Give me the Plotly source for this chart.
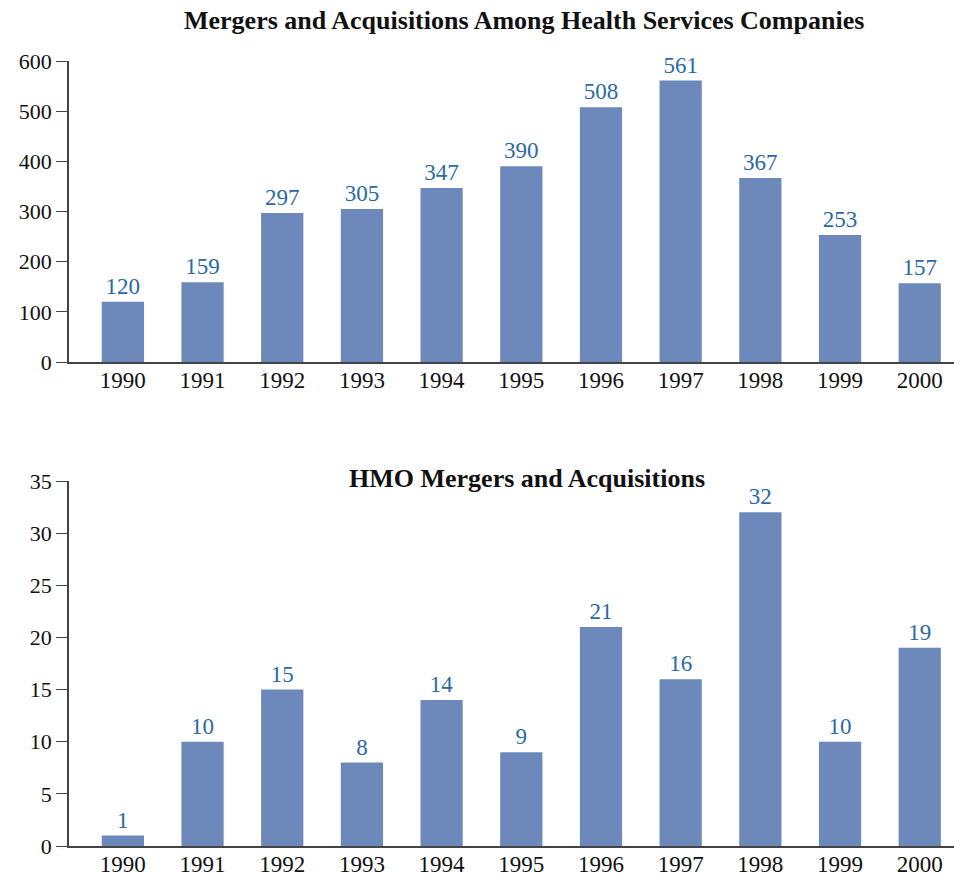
import plotly.graph_objects as go

years = ["1990", "1991", "1992", "1993", "1994", "1995", "1996", "1997", "1998", "1999", "2000"]
health_services_deals = [120, 159, 297, 305, 347, 390, 508, 561, 367, 253, 157]
hmo_deals = [1, 10, 15, 8, 14, 9, 21, 16, 32, 10, 19]

title_top = "Mergers and Acquisitions Among Health Services Companies"
title_bottom = "HMO Mergers and Acquisitions"

BAR_COLOR = "#6d89bb"
LABEL_COLOR = "#2a69a6"
AXIS_COLOR = "#444444"
FONT = "Liberation Serif"

W, H = 954, 876

fig = go.Figure()

for vals, xa, ya in [(health_services_deals, "x", "y"), (hmo_deals, "x2", "y2")]:
    fig.add_trace(go.Bar(
        x=years, y=vals, xaxis=xa, yaxis=ya,
        marker=dict(color=BAR_COLOR, line=dict(width=0)),
        width=0.53,
        text=[str(v) for v in vals], textposition="outside",
        textfont=dict(family=FONT, size=23, color=LABEL_COLOR),
        cliponaxis=False, showlegend=False, hoverinfo="x+y",
    ))

xcommon = dict(
    type="category", range=[-0.676, 10.43], domain=[69 / W, 1],
    showline=True, linecolor=AXIS_COLOR, linewidth=1.5,
    ticks="", showgrid=False, zeroline=False, automargin=False,
    ticklabelstandoff=-3,
    tickfont=dict(family=FONT, size=23, color="#111111"),
)
ycommon = dict(
    showline=True, linecolor=AXIS_COLOR, linewidth=1.5,
    ticks="outside", ticklen=11, tickcolor=AXIS_COLOR, tickwidth=1.2,
    showgrid=False, zeroline=False, automargin=False,
    tickfont=dict(family=FONT, size=22, color="#111111"),
)

fig.update_layout(
    width=W, height=H,
    margin=dict(l=0, r=0, t=0, b=0, pad=0),
    paper_bgcolor="white", plot_bgcolor="white",
    bargap=0.47,
    xaxis=dict(**xcommon, anchor="y"),
    yaxis=dict(**ycommon, anchor="x", range=[0, 600], dtick=100,
               domain=[1 - 362 / H, 1 - 61 / H]),
    xaxis2=dict(**xcommon, anchor="y2"),
    yaxis2=dict(**ycommon, anchor="x2", range=[0, 35], dtick=5,
                domain=[1 - 846 / H, 1 - 481 / H]),
    annotations=[
        dict(text="<b>" + title_top + "</b>", x=524 / W, y=1 - 21 / H,
             xref="paper", yref="paper", showarrow=False, yanchor="middle",
             font=dict(family=FONT, size=26, color="#111111")),
        dict(text="<b>" + title_bottom + "</b>", x=527 / W, y=1 - 478 / H,
             xref="paper", yref="paper", showarrow=False, yanchor="middle",
             font=dict(family=FONT, size=26, color="#111111")),
    ],
)

fig.write_html("out.html")
